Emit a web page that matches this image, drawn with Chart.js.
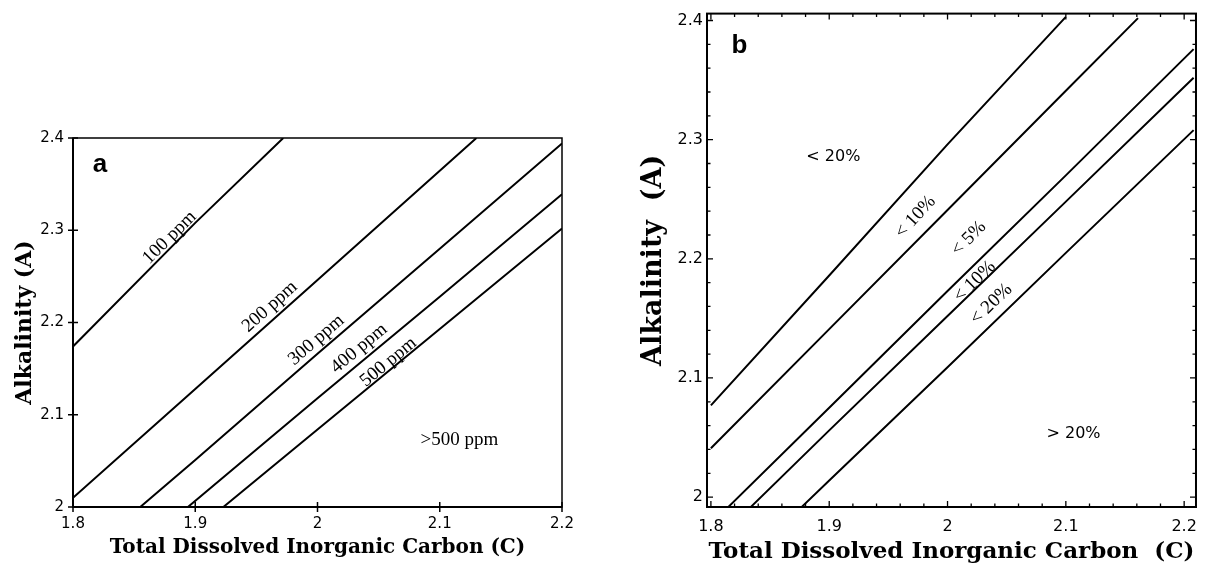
<!DOCTYPE html>
<html><head><meta charset="utf-8">
<script src="https://cdn.jsdelivr.net/npm/chart.js@4.4.0/dist/chart.umd.min.js"></script>
<style>
html,body{margin:0;padding:0;background:#fff;width:1207px;height:569px;overflow:hidden}
#wa{position:absolute;left:0;top:0;width:600px;height:569px}
#wb{position:absolute;left:600px;top:0;width:607px;height:569px}
</style></head><body>
<div id="wa"><canvas id="ca"></canvas></div>
<div id="wb"><canvas id="cb"></canvas></div>
<script>
// ---------- Panel a data ----------
const ticksAx = [1.8, 1.9, 2, 2.1, 2.2];
const ticksAy = [2, 2.1, 2.2, 2.3, 2.4];
const labelsAx = ['1.8', '1.9', '2', '2.1', '2.2'];
const labelsAy = ['2', '2.1', '2.2', '2.3', '2.4'];
const ppm100x = [1.8, 1.9, 1.972];
const ppm100y = [2.174, 2.308, 2.4];
const ppm200x = [1.8, 1.9, 2.0, 2.13];
const ppm200y = [2.010, 2.128, 2.246, 2.4];
const ppm300x = [1.855, 1.9, 2.0, 2.1, 2.2];
const ppm300y = [2.0, 2.051, 2.166, 2.280, 2.394];
const ppm400x = [1.894, 2.0, 2.1, 2.2];
const ppm400y = [2.0, 2.118, 2.228, 2.339];
const ppm500x = [1.923, 2.0, 2.1, 2.2];
const ppm500y = [2.0, 2.084, 2.193, 2.302];

// ---------- Panel b data ----------
const ticksBx = [1.8, 1.9, 2, 2.1, 2.2];
const ticksBy = [2, 2.1, 2.2, 2.3, 2.4];
const labelsBx = ['1.8', '1.9', '2', '2.1', '2.2'];
const labelsBy = ['2', '2.1', '2.2', '2.3', '2.4'];
const b1x = [1.8, 1.9, 2.0, 2.1];
const b1y = [2.077, 2.186, 2.296, 2.403];
const b2x = [1.8, 1.9, 2.0, 2.1, 2.161];
const b2y = [2.041, 2.141, 2.241, 2.341, 2.402];
const b3x = [1.815, 1.9, 2.0, 2.1, 2.208];
const b3y = [1.992, 2.075, 2.173, 2.270, 2.376];
const b4x = [1.834, 1.9, 2.0, 2.1, 2.208];
const b4y = [1.992, 2.056, 2.152, 2.248, 2.352];
const b5x = [1.877, 1.9, 2.0, 2.1, 2.208];
const b5y = [1.992, 2.014, 2.109, 2.205, 2.308];

const mk = (xs, ys) => ({
  data: xs.map((x, i) => ({x: x, y: ys[i]})),
  showLine: true, borderColor: '#000', borderWidth: 2,
  pointRadius: 0, fill: false, tension: 0
});

// annotations: text, data position, series used for the angle (-1 = horizontal)
const annA = [
  {t: '100 ppm', x: 1.879, y: 2.292, s: 0},
  {t: '200 ppm', x: 1.961, y: 2.217, s: 1},
  {t: '300 ppm', x: 1.999, y: 2.181, s: 2},
  {t: '400 ppm', x: 2.034, y: 2.172, s: 3},
  {t: '500 ppm', x: 2.058, y: 2.157, s: 4},
  {t: '>500 ppm', x: 2.116, y: 2.073, s: -1}
];
const annB = [
  {t: '< 20%', x: 1.9035, y: 2.2856, s: -1, f: 'sans'},
  {t: '< 10%', x: 1.973, y: 2.235, s: 0},
  {t: '< 5%', x: 2.018, y: 2.217, s: 1},
  {t: '< 10%', x: 2.023, y: 2.181, s: 2},
  {t: '< 20%', x: 2.037, y: 2.162, s: 3},
  {t: '> 20%', x: 2.1065, y: 2.0534, s: -1, f: 'sans'}
];

function textPlugin(id, list, serifFont, sansFont, letter, letterPos) {
  return {
    id: id,
    afterDatasetsDraw(chart) {
      const ctx = chart.ctx, xs = chart.scales.x, ys = chart.scales.y;
      ctx.save();
      ctx.fillStyle = '#000';
      ctx.textAlign = 'center';
      ctx.textBaseline = 'middle';
      list.forEach(a => {
        const px = xs.getPixelForValue(a.x), py = ys.getPixelForValue(a.y);
        let ang = 0;
        if (a.s >= 0) {
          const d = chart.data.datasets[a.s].data;
          const p0 = d[0], p1 = d[d.length - 1];
          ang = Math.atan2(ys.getPixelForValue(p1.y) - ys.getPixelForValue(p0.y),
                           xs.getPixelForValue(p1.x) - xs.getPixelForValue(p0.x));
        }
        ctx.font = a.f === 'sans' ? sansFont : serifFont;
        ctx.save();
        ctx.translate(px, py);
        ctx.rotate(ang);
        ctx.fillText(a.t, 0, 0);
        ctx.restore();
      });
      ctx.font = 'bold 26px "Liberation Sans", Arial, sans-serif';
      ctx.fillText(letter, xs.getPixelForValue(letterPos[0]), ys.getPixelForValue(letterPos[1]));
      ctx.restore();
    }
  };
}

const frameA = {
  id: 'frameA',
  afterDraw(chart) {
    const {ctx, chartArea: {left, right, top, bottom}} = chart;
    const xs = chart.scales.x, ys = chart.scales.y;
    ctx.save();
    ctx.strokeStyle = '#000';
    ctx.lineWidth = 1.5;
    ctx.strokeRect(left, top, right - left, bottom - top);
    ctx.lineWidth = 2;
    ctx.beginPath();
    ctx.moveTo(left, top); ctx.lineTo(left, bottom); ctx.lineTo(right, bottom);
    ctx.stroke();
    ctx.lineWidth = 1.5;
    ctx.beginPath();
    ticksAx.forEach(v => { const p = xs.getPixelForValue(v); ctx.moveTo(p, bottom - 5); ctx.lineTo(p, bottom + 5); });
    ticksAy.forEach(v => { const p = ys.getPixelForValue(v); ctx.moveTo(left - 5, p); ctx.lineTo(left + 5, p); });
    ctx.stroke();
    ctx.restore();
  }
};

const frameB = {
  id: 'frameB',
  afterDraw(chart) {
    const {ctx, chartArea: {left, right, top, bottom}} = chart;
    const xs = chart.scales.x, ys = chart.scales.y;
    ctx.save();
    ctx.strokeStyle = '#000';
    ctx.lineWidth = 2;
    ctx.strokeRect(left, top, right - left, bottom - top);
    ctx.lineWidth = 1.3;
    ctx.beginPath();
    for (let k = 0; k <= 20; k++) {
      const v = 1.8 + k * 0.02;
      const L = (k % 5 === 0) ? 6 : 3.5;
      const p = xs.getPixelForValue(v);
      ctx.moveTo(p, bottom); ctx.lineTo(p, bottom - L);
      ctx.moveTo(p, top); ctx.lineTo(p, top + L);
      const w = 2 + k * 0.02;
      const q = ys.getPixelForValue(w);
      ctx.moveTo(left, q); ctx.lineTo(left + L, q);
      ctx.moveTo(right, q); ctx.lineTo(right - L, q);
    }
    ctx.stroke();
    ctx.restore();
  }
};

const tickFont = {family: '"DejaVu Sans", sans-serif', size: 15};
const titleFontA = {family: '"DejaVu Serif", serif', weight: 'bold', size: 20};
const yTitleFontA = {family: '"DejaVu Serif", serif', weight: 'bold', size: 22};
const titleFontB = {family: '"DejaVu Serif", serif', weight: 'bold', size: 23};
const yTitleFontB = {family: '"DejaVu Serif", serif', weight: 'bold', size: 27};

new Chart(document.getElementById('ca'), {
  type: 'scatter',
  data: {datasets: [mk(ppm100x, ppm100y), mk(ppm200x, ppm200y), mk(ppm300x, ppm300y), mk(ppm400x, ppm400y), mk(ppm500x, ppm500y)]},
  options: {
    responsive: true, maintainAspectRatio: false, animation: false,
    layout: {padding: {left: 0, top: 138, right: 38, bottom: 0}},
    plugins: {legend: {display: false}, tooltip: {enabled: false}},
    scales: {
      x: {
        type: 'linear', min: 1.8, max: 2.2,
        grid: {display: false, drawTicks: false}, border: {display: false},
        afterBuildTicks: s => { s.ticks = ticksAx.map(v => ({value: v})); },
        afterFit: s => { s.height = 62; },
        ticks: {padding: 8, color: '#000', font: tickFont, maxRotation: 0, autoSkip: false,
                callback: (v, i) => labelsAx[i]},
        title: {display: true, text: 'Total Dissolved Inorganic Carbon (C)', color: '#000',
                font: titleFontA, padding: {top: 0, bottom: 9}}
      },
      y: {
        type: 'linear', min: 2, max: 2.4,
        grid: {display: false, drawTicks: false}, border: {display: false},
        afterBuildTicks: s => { s.ticks = ticksAy.map(v => ({value: v})); },
        afterFit: s => { s.width = 73; },
        ticks: {padding: 9, color: '#000', font: tickFont, autoSkip: false,
                callback: (v, i) => labelsAy[i]},
        title: {display: true, text: 'Alkalinity (A)', color: '#000',
                font: yTitleFontA, padding: {top: 12, bottom: 0}}
      }
    }
  },
  plugins: [frameA, textPlugin('txtA', annA, '19px "Liberation Serif", serif', '16px "DejaVu Sans", sans-serif', 'a', [1.822, 2.371])]
});

new Chart(document.getElementById('cb'), {
  type: 'scatter',
  data: {datasets: [mk(b1x, b1y), mk(b2x, b2y), mk(b3x, b3y), mk(b4x, b4y), mk(b5x, b5y)]},
  options: {
    responsive: true, maintainAspectRatio: false, animation: false,
    layout: {padding: {left: 0, top: 11, right: 5, bottom: 0}},
    plugins: {legend: {display: false}, tooltip: {enabled: false}},
    scales: {
      x: {
        type: 'linear', min: 1.7967, max: 2.21,
        grid: {display: false, drawTicks: false}, border: {display: false},
        afterBuildTicks: s => { s.ticks = ticksBx.map(v => ({value: v})); },
        afterFit: s => { s.height = 62; },
        ticks: {padding: 10, color: '#000', font: {family: '"DejaVu Sans", sans-serif', size: 16}, maxRotation: 0, autoSkip: false,
                callback: (v, i) => labelsBx[i]},
        title: {display: true, text: 'Total Dissolved Inorganic Carbon  (C)', color: '#000',
                font: titleFontB, padding: {top: 0, bottom: 3}}
      },
      y: {
        type: 'linear', min: 1.9917, max: 2.4058,
        grid: {display: false, drawTicks: false}, border: {display: false},
        afterBuildTicks: s => { s.ticks = ticksBy.map(v => ({value: v})); },
        afterFit: s => { s.width = 107; },
        ticks: {padding: 4, color: '#000', font: {family: '"DejaVu Sans", sans-serif', size: 16}, autoSkip: false,
                callback: (v, i) => labelsBy[i]},
        title: {display: true, text: 'Alkalinity  (A)', color: '#000',
                font: yTitleFontB, padding: {top: 38, bottom: 0}}
      }
    }
  },
  plugins: [frameB, textPlugin('txtB', annB, '19px "Liberation Serif", serif', '16px "DejaVu Sans", sans-serif', 'b', [1.8242, 2.3791])]
});
</script>
</body></html>
